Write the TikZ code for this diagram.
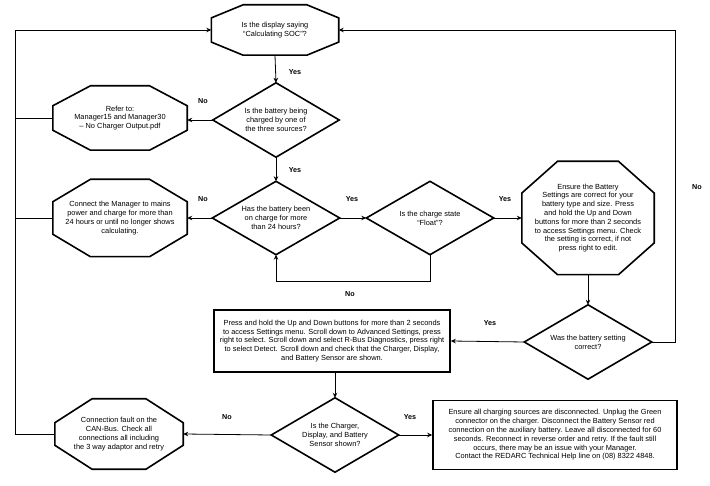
\documentclass[tikz,border=0pt]{standalone}
\usepackage{fontspec}
\setmainfont{Liberation Sans}
\usetikzlibrary{calc,arrows.meta}
\newcommand\octoshape[3]{\draw[shapeline] ($(#1.north west)!#2!(#1.north east)$) -- ($(#1.north east)!#2!(#1.north west)$) -- ($(#1.north east)!#3!(#1.south east)$) -- ($(#1.south east)!#3!(#1.north east)$) -- ($(#1.south east)!#2!(#1.south west)$) -- ($(#1.south west)!#2!(#1.south east)$) -- ($(#1.south west)!#3!(#1.north west)$) -- ($(#1.north west)!#3!(#1.south west)$) -- cycle;}
\newcommand\diamondshape[1]{\draw[shapeline] (#1.north) -- (#1.east) -- (#1.south) -- (#1.west) -- cycle;}
\tikzset{
  txt/.style={inner sep=0pt, align=center, font=\fontsize{7.4}{8.8}\selectfont},
  shapeline/.style={line width=1.6pt, line join=miter},
  conn/.style={line width=0.8pt, -{Stealth[length=5pt,width=4.5pt]}},
  plain/.style={line width=0.8pt},
  lbl/.style={font=\fontsize{7.2}{8}\selectfont\bfseries, inner sep=0pt},
  boxnode/.style={txt, draw, line width=1.6pt}
}
\begin{document}
\begin{tikzpicture}[x=1pt,y=-1pt]
\useasboundingbox[fill=white] (0,0) rectangle (710,486);

% nodes
\node[txt, minimum width=127pt, minimum height=50pt] (q1) at (275,30) {Is the display saying\\“Calculating SOC”?};
\node[txt, minimum width=126pt, minimum height=74pt] (q2) at (276,120) {Is the battery being\\charged by one of\\the three sources?};
\node[txt, minimum width=134pt, minimum height=64pt] (r1) at (120,118) {Refer to:\\Manager15 and Manager30\\– No Charger Output.pdf};
\node[txt, minimum width=127pt, minimum height=73pt] (q3) at (276,218) {Has the battery been\\on charge for more\\than 24 hours?};
\node[txt, minimum width=134pt, minimum height=77pt] (r2) at (120,218) {Connect the Manager to mains\\power and charge for more than\\24 hours or until no longer shows\\calculating.};
\node[txt, minimum width=127pt, minimum height=73pt] (q4) at (430,218) {Is the charge state\\“Float”?};
\node[txt, minimum width=132pt, minimum height=113pt] (r3) at (588,218) {Ensure the Battery\\Settings are correct for your\\battery type and size. Press\\and hold the Up and Down\\buttons for more than 2 seconds\\to access Settings menu. Check\\the setting is correct, if not\\press right to edit.};
\node[txt, minimum width=127pt, minimum height=74pt] (q5) at (588,342) {Was the battery setting\\correct?};
\node[boxnode, minimum width=236pt, minimum height=62pt] (b1) at (332,341) {Press and hold the Up and Down buttons for more than 2 seconds\\to access Settings menu. Scroll down to Advanced Settings, press\\right to select. Scroll down and select R-Bus Diagnostics, press right\\to select Detect. Scroll down and check that the Charger, Display,\\and Battery Sensor are shown.};
\node[txt, minimum width=127pt, minimum height=74pt] (q6) at (335,435) {Is the Charger,\\Display, and Battery\\Sensor shown?};
\node[boxnode, minimum width=244pt, minimum height=69pt] (b2) at (555,435) {Ensure all charging sources are disconnected. Unplug the Green\\connector on the charger. Disconnect the Battery Sensor red\\connection on the auxiliary battery. Leave all disconnected for 60\\seconds. Reconnect in reverse order and retry. If the fault still\\occurs, there may be an issue with your Manager.\\Contact the REDARC Technical Help line on (08) 8322 4848.};
\node[txt, minimum width=128pt, minimum height=70pt] (r4) at (119,434) {Connection fault on the\\CAN-Bus. Check all\\connections all including\\the 3 way adaptor and retry};

% shapes
\octoshape{q1}{0.25}{0.26}
\octoshape{r1}{0.28}{0.31}
\octoshape{r2}{0.28}{0.29}
\octoshape{r3}{0.27}{0.28}
\octoshape{r4}{0.29}{0.34}
\diamondshape{q2}
\diamondshape{q3}
\diamondshape{q4}
\diamondshape{q5}
\diamondshape{q6}

% helper coordinates
\coordinate (lt) at (15,30);
\coordinate (rt) at (675,30);
\coordinate (lb) at (15,434);
\coordinate (fl) at (430,281);

% labels
\node[lbl] (y1) at (295,72) {Yes};
\node[lbl] (y2) at (295,170) {Yes};
\node[lbl] (n1) at (203,101) {No};
\node[lbl] (n2) at (203,199) {No};
\node[lbl] (y3) at (352,199) {Yes};
\node[lbl] (n3) at (350,294) {No};
\node[lbl] (y4) at (505,199) {Yes};
\node[lbl] (n4) at (697,187) {No};
\node[lbl] (y5) at (490,323) {Yes};
\node[lbl] (n5) at (227,417) {No};
\node[lbl] (y6) at (410,417) {Yes};

% connectors
\draw[conn] (q1.south) -- (q2.north);
\draw[conn] (q2.south) -- (q3.north);
\draw[conn] (q2.west) -- (q2.west -| r1.east);
\draw[conn] (q3.west) -- (r2.east);
\draw[conn] (q3.east) -- (q4.west);
\draw[conn] (q4.south) -- (fl) -- (fl -| q3.south) -- (q3.south);
\draw[conn] (q4.east) -- (r3.west);
\draw[conn] (r3.south) -- (q5.north);
\draw[conn] (q5.west) -- (b1.east);
\draw[conn] (q5.east) -- (q5.east -| rt) -- (rt) -- (q1.east);
\draw[conn] (q6.north |- b1.south) -- (q6.north);
\draw[conn] (q6.east) -- (b2.west);
\draw[conn] (q6.west) -- (r4.east);
\draw[plain] (r1.west) -- (r1.west -| lt);
\draw[plain] (r2.west) -- (r2.west -| lt);
\draw[conn] (r4.west) -- (lb) -- (lt) -- (q1.west);
\end{tikzpicture}
\end{document}
